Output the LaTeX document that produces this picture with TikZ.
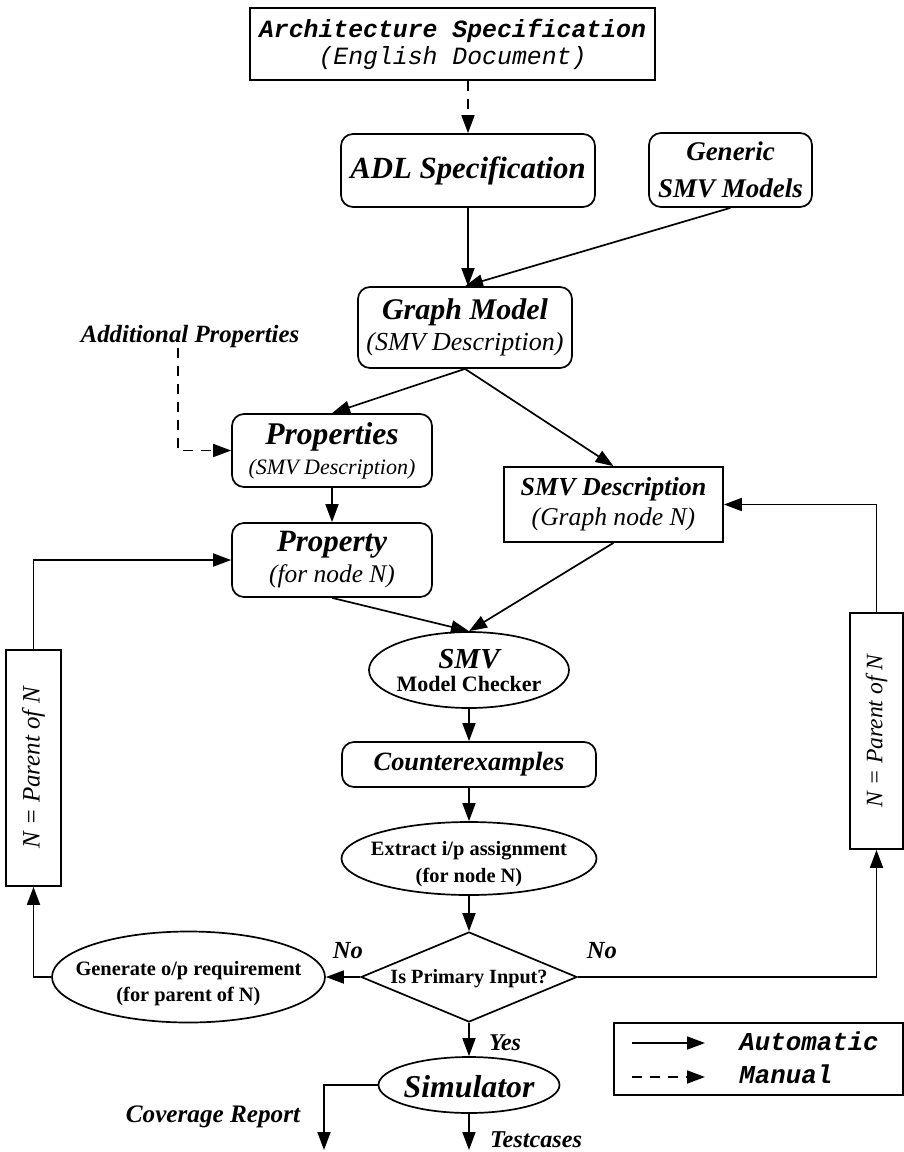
\documentclass[tikz,border=0pt]{standalone}
\usepackage{fontspec}
\setmainfont{Liberation Serif}
\newfontfamily\cour{Liberation Mono}
\usetikzlibrary{arrows.meta,shapes.geometric}
\newcommand\setfs[2]{\fontsize{#1}{#2}\selectfont}
\begin{document}
\begin{tikzpicture}[x=0.5pt,y=-0.5pt,
  box/.style={draw, line width=0.85pt, inner sep=0pt, align=center},
  rbox/.style={box, rounded corners=6pt},
  oval/.style={draw, ellipse, line width=0.85pt, inner sep=0pt},
  decision/.style={draw, diamond, line width=0.85pt, inner sep=0pt},
  flow/.style={line width=0.85pt, -{Triangle[length=9pt,width=6.5pt]}},
  handflow/.style={flow, dash pattern=on 5pt off 4pt},
  lbl/.style={anchor=base, inner sep=0pt, font=\bfseries\itshape}]
\useasboundingbox (0,0) rectangle (904,1152);

% --- boxes of the specification chain
\node[box, minimum width=202.5pt, minimum height=36pt,
      font=\setfs{12.4}{13.5}\cour\bfseries\itshape] (arch) at (452.5,44)
      {Architecture Specification\\{\mdseries (English Document)}};
\node[rbox, minimum width=127pt, minimum height=36.5pt,
      font=\setfs{15.4}{18}\bfseries\itshape] (adl) at (468,170.5) {ADL Specification};
\node[rbox, minimum width=81.5pt, minimum height=37pt,
      font=\setfs{13.5}{18.5}\bfseries\itshape] (gen) at (730.5,170) {Generic\\SMV Models};
\node[rbox, minimum width=107pt, minimum height=40.5pt,
      font=\setfs{15}{15.5}\bfseries\itshape] (graph) at (465,327.5)
      {Graph Model\\{\mdseries\setfs{13}{15.5}(SMV Description)}};
\node[lbl, font=\setfs{12.4}{13}\bfseries\itshape] (addp) at (190,342) {Additional Properties};
\node[rbox, minimum width=100pt, minimum height=36.5pt,
      font=\setfs{15.8}{15}\bfseries\itshape] (props) at (332,450.5)
      {Properties\\{\mdseries\setfs{11}{15}(SMV Description)}};
\node[box, minimum width=109.5pt, minimum height=37.5pt,
      font=\setfs{13}{15}\bfseries\itshape] (smvdesc) at (613.5,504.5)
      {SMV Description\\{\mdseries\setfs{12.8}{15}(Graph node N)}};
\node[rbox, minimum width=100pt, minimum height=37pt,
      font=\setfs{15.5}{15.5}\bfseries\itshape] (prop) at (332,560)
      {Property\\{\mdseries\setfs{12.7}{15.5}(for node N)}};

% --- checking loop
\node[oval, minimum width=100pt, minimum height=38pt,
      label={[align=center, font=\setfs{11}{11.5}\bfseries]center:{\setfs{14.5}{11.5}\itshape SMV}\\Model Checker}]
      (smv) at (469,670) {};
\node[rbox, minimum width=127pt, minimum height=22.5pt,
      font=\setfs{13.2}{14}\bfseries\itshape] (counter) at (469,764.5) {Counterexamples};
\node[oval, minimum width=127.5pt, minimum height=36.5pt,
      label={[align=center, yshift=-3pt, font=\setfs{10.2}{13.5}\bfseries]center:Extract i/p assignment\\(for node N)}]
      (extract) at (469,858.5) {};
\node[decision, minimum width=108pt, minimum height=45pt,
      label={[font=\setfs{10.1}{11}\bfseries, yshift=-1pt]center:Is Primary Input?}]
      (dia) at (469,977) {};
\node[oval, minimum width=136.5pt, minimum height=45.5pt,
      label={[align=center, yshift=-3.5pt, font=\setfs{10.2}{13}\bfseries]center:Generate o/p requirement\\(for parent of N)}]
      (genreq) at (188.5,977) {};
\node[oval, minimum width=90.5pt, minimum height=28pt,
      label={[font=\setfs{15.9}{16}\bfseries\itshape, yshift=-1pt]center:Simulator}]
      (sim) at (469,1085) {};

% --- parent update boxes (text reads upwards)
\node[box, minimum width=27.5pt, minimum height=118pt,
      label={[rotate=90, font=\setfs{12.5}{13}\itshape]center:N = Parent of N}]
      (lpar) at (33.5,768) {};
\node[box, minimum width=26.5pt, minimum height=118pt,
      label={[rotate=90, font=\setfs{11.8}{12}\itshape]center:N = Parent of N}]
      (rpar) at (876.5,731) {};

% --- outputs
\coordinate (tcend) at (469,1150);
\coordinate (covend) at (324,1150);
\node[lbl, font=\setfs{12.1}{13}\bfseries\itshape] (tctxt) at (536,1147) {Testcases};
\node[lbl, font=\setfs{12.6}{13}\bfseries\itshape] (covtxt) at (213,1122) {Coverage Report};
\node[lbl, font=\setfs{12.3}{13}\bfseries\itshape] (nol) at (348,958) {No};
\node[lbl, font=\setfs{12.3}{13}\bfseries\itshape] (nor) at (602,958) {No};
\node[lbl, font=\setfs{12}{13}\bfseries\itshape] (yes) at (505,1050) {Yes};

% --- legend
\node[box, minimum width=144.5pt, minimum height=36pt] (legend) at (758.5,1059) {};
\coordinate (la) at (632,1043);
\coordinate (lb) at (705,1043);
\coordinate (ma) at (632,1077);
\coordinate (mb) at (705,1077);
\node[anchor=base west, inner sep=0pt, font=\setfs{12.9}{13}\cour\bfseries\itshape] (autotxt) at (739,1050) {Automatic};
\node[anchor=base west, inner sep=0pt, font=\setfs{12.9}{13}\cour\bfseries\itshape] (mantxt) at (739,1083) {Manual};
\draw[flow] (la) -- (lb);
\draw[handflow] (ma) -- (mb);

% --- connectors
\draw[handflow] (arch.south -| adl.north) -- (adl.north);
\draw[flow] (adl.south) -- (adl.south |- graph.north);
\draw[flow] (gen.south) -- (graph.north);
\draw[flow] (graph.south) -- (props.north);
\draw[flow] (graph.south) -- (smvdesc.north);
\draw[handflow] ([xshift=-6pt]addp.south) |- (props.west);
\draw[flow] (props.south) -- (prop.north);
\draw[flow] (prop.south) -- (smv.north);
\draw[flow] (smvdesc.south) -- (smv.north);
\draw[flow] (smv.south) -- (counter.north);
\draw[flow] (counter.south) -- (extract.north);
\draw[flow] (extract.south) -- (dia.north);
\draw[flow] (dia.south) -- (sim.north);
\draw[flow] (dia.west) -- (genreq.east);
\draw[flow] (dia.east) -| (rpar.south);
\draw[flow] (rpar.north) |- (smvdesc.east);
\draw[flow] (genreq.west) -| (lpar.south);
\draw[flow] (lpar.north) |- (prop.west);
\draw[flow] (sim.south) -- (tcend);
\draw[flow] (sim.west) -| (covend);
\end{tikzpicture}
\end{document}
